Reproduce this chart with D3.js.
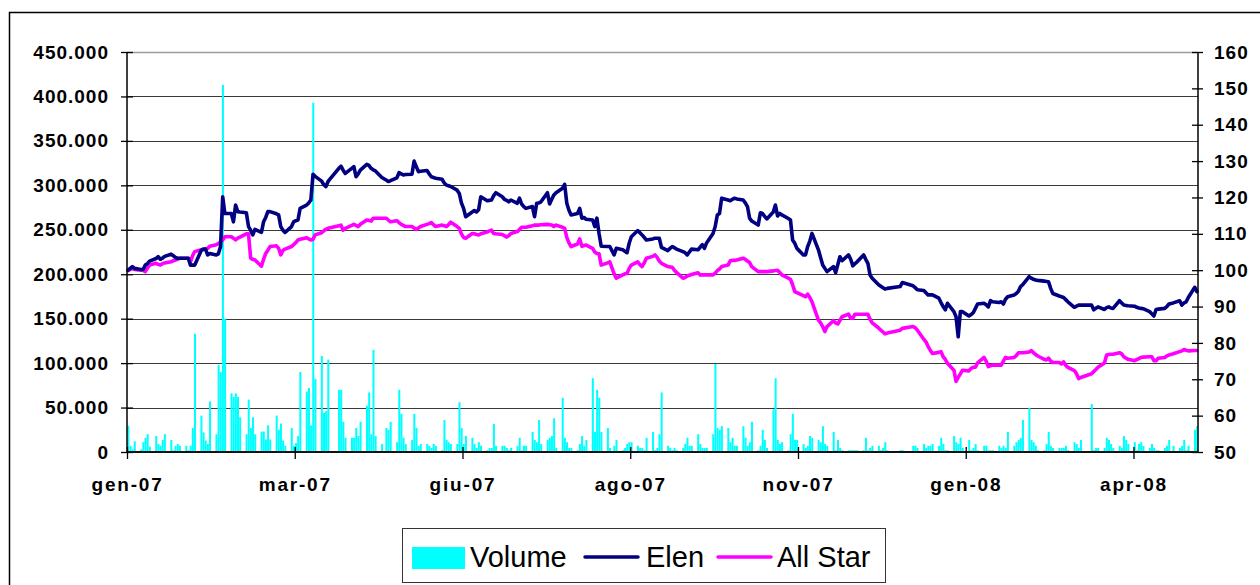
<!DOCTYPE html>
<html>
<head>
<meta charset="utf-8">
<script src="https://cdn.jsdelivr.net/npm/d3@7"></script>
<style>
  html, body { margin: 0; padding: 0; background: #fff; }
  svg { display: block; }
  text { font-family: "Liberation Sans", Arial, sans-serif; }
</style>
</head>
<body>
<svg id="chart" width="1260" height="585"></svg>
<script>
// ---------------- DATA ----------------
const firstDay = "2007-01-02";
const lastDay = "2008-05-13";
const axisEnd = "2008-05-14";
// days the exchange was closed (besides weekends)
const holidays = ["2007-04-06","2007-04-09","2007-05-01","2007-08-15","2007-12-24","2007-12-25",
  "2007-12-26","2007-12-31","2008-01-01","2008-03-21","2008-03-24","2008-05-01"];

const tickLabels = ["gen-07","mar-07","giu-07","ago-07","nov-07","gen-08","apr-08"];
const tickStepDays = 78;

const volumeTicks = [0,50,100,150,200,250,300,350,400,450];   // thousands
const indexTicks = [50,60,70,80,90,100,110,120,130,140,150,160];

const seriesNames = ["Volume","Elen","All Star"];

// daily volume, thousands of shares (one value per trading day)
const volume = [
  29.6,7,3,12,
  3,11,16,20,6,  18,9,7,13.5,20,  13.5,2,7,9,7,  7,2,7,27,133,
  41,22,13,9,57,  20,98,90,413,150,  66,62,66,62,39,  20,59,27,39,20,
  23,23,14,30,14,  41,25,32,13,7,  27,7,10,18,90,  68,72,30,393,82,
  108,44,46,104,  70,70,34,16,
  16,16,27,18,34,  52,67,20,115,18,
  9,27,25,34,
  11,70,43,16,9,  13.5,43,27,7,9,  9,7,4.5,9,7,  2,36,13.5,11,9,
  9,56,27,9,18,  16,9,4.5,11,7,  2,4.5,4.5,31.5,7,  7,7,4.5,2,4.5,
  7,16,2,7,7,  22.5,13.5,11,36,9,  13.5,16,18,38,4.5,  61,16,11,4.5,4.5,
  2,9,18,7,13.5,  83,22.5,70,61,22.5,
  27,4.5,7,13.5,
  2,4.5,9,11,11,  7,4.5,4.5,2,16,  22.5,2,4.5,20,67,  7,4.5,2,4.5,2,
  4.5,9,16,7,7,  20,9,4.5,4.5,4.5,  20,99,27,25,29,  27,11,16,7,7,
  29,16,7,11,34,  2,7,25,13.5,4.5,  48,83,13.5,9,11,  2,20,43,13.5,13.5,
  9,4.5,7,18,16,  13.5,11,29,9,7,  22.5,2,13.5,4.5,2,  2,2,2,2,2,
  2,16,2,4.5,7,  7,2,4.5,11,2,
  2,2,
  7,7,4.5,
  9,4.5,7,7,9,  7,16,9,2,2,  18,11,9,16,4.5,  13.5,2,4.5,9,2,
  7,7,2,2,2,  7,4.5,7,4.5,22.5,  7,11,13.5,16,36,  49.5,13.5,11,7,2,
  2,9,22.5,7,4.5,  4.5,4.5,4.5,7,2,
  11,9,4.5,13.5,
  54,2,4.5,4.5,
  4.5,16,13.5,9,4.5,  7,4.5,18,13.5,9,  11,2,9,11,7,  4.5,9,4.5,2,2,
  4.5,7,13.5,7,
  4.5,7,13.5,2,7,
  25,29
];

// Elen, indexed (start = 100)
const elen = [
  100,100.5,101,100.5,
  100.2,100.2,101.4,101.8,102.5,  103.2,103.7,103,103.3,103.8,  104.4,104,103.5,103.3,103.3,  103.3,103.3,101.4,101.4,101.4,
  105.4,105.8,105.8,104.2,104.6,  104.2,104.5,106.5,120.2,115.6,  115.6,113.3,117.9,116.1,116,  115.8,112,111,109.7,111.2,
  110.4,113.3,114.5,116.1,116.1,  115.5,115.2,112,111,110.4,  112,113.3,113.6,113.8,117,  117.9,118.5,119.3,126.4,125.8,
  124.5,123.5,123,124.4,  128,128.6,127.5,126.6,
  128,128.5,125.7,126.5,127.5,  129.1,128.8,128,127.6,127.3,
  125.5,124.8,124.4,124.6,
  125.4,126.8,126.5,126.2,126.3,  126.4,130,128.5,127.1,127.2,  127.4,126.5,125.7,125.5,125.3,  125,124,123.4,123.2,123,
  122,121.1,118.5,117,114.7,  116,116.4,116,116.6,120.2,  119.1,119.2,119.3,120.5,121.3,  120.2,119.5,119.2,118.8,119.3,
  118.4,119.8,118.2,117.5,117,  117.5,114.7,118.4,118.5,118.8,  121.3,118.2,119.5,120.7,121.3,  122.5,123.6,118.4,116.5,115.2,
  115.6,117,114.3,114.5,114,  113.8,112,114.3,110.1,106.6,
  106.5,106.5,104.2,106,
  105.6,105.2,104.8,107.4,109.2,  110.9,110.3,109.7,109,108.3,  108.6,108.8,108.8,108.8,106.3,  105.4,106,106.5,106.2,105.8,
  105.1,104.8,104.2,105,105.8,  105.6,106.3,107,106,107.5,  110.1,112,115.2,115.6,119.8,  119.3,119.1,119.5,119.8,119.6,
  119.3,118.5,117.5,114.3,113.5,  112.4,115.8,115.6,114.8,114.1,  116,117.9,114.9,115.6,115.2,  114.2,113.8,108.3,107.4,106,
  104.2,104.2,106.5,108,110.1,  105.6,103.5,101.4,100.5,99.6,  101,99.3,101.5,103.7,102.6,  104.2,103,101.2,101.8,102.3,
  104.2,103,101.9,98.7,97.8,  96,95.6,95.2,94.8,95,
  95.5,96.6,
  95.7,95.2,94.6,
  94.4,93.8,93.2,93.2,93.2,  92.3,91.1,90,89.1,90.9,  88.6,87.2,81.7,88.6,88.6,  87.4,87.8,88.3,89.5,90.7,
  90.9,90.5,89.9,91.6,91.3,  91.1,91.3,90.7,92,92.7,  93.2,93.6,94.2,95.5,96,  98.2,97.8,97.5,97.3,97.2,
  97,96.9,96.8,95,93.6,  92.9,92.7,92.5,91.9,91.3,
  89.8,90.1,90.4,90.4,
  90.4,89.1,89.5,89.9,
  89.2,89.7,89.9,89.6,89.5,  91.6,91,90.4,90.3,90.2,  90.1,89.8,89.6,89.5,89.4,  88.6,88,87.4,89.2,89.3,
  89.5,90,90.7,91,
  91.6,90.4,91,91.3,92.5,
  95.3,94.1
];

// All Star index (start = 100)
const allStar = [
  99.9,100.2,100.5,100.2,
  100,100,99.6,100.5,101.4,  101.9,101.6,101.4,101.8,102,  102.3,102.6,102.8,103,103.3,  103.3,103.3,102.3,104,105.1,
  105.6,105.7,105.8,106,106.6,  107,107.3,107.8,108.3,109.2,  109.2,108.8,108.3,108.8,109.1,  110,110,103.3,103,102.8,
  101.1,103,104.6,105.5,106.5,  106.7,106,104.2,105.4,105.8,  106.5,107,107.6,108.3,108.5,  108.9,108.6,108.3,108.5,109.7,
  110.3,110.8,111.3,111.5,  112.2,112.4,111,111.5,
  112.3,112.6,112.3,112,112.6,  113.8,113.7,113.5,114.3,114.3,
  114.3,114.3,113.8,113.3,
  113.6,113.1,112.6,112.3,112,  112,111.6,111.2,111.6,112,  112.6,112.8,113.1,112.5,112,  112.4,112.2,112,112.5,113.2,
  112,111.5,110,109,108.8,  110.1,110,109.8,109.7,110,  110.5,110.8,111,110.1,110,  109.8,109.5,109.1,109.5,110.1,
  110.6,111.2,111.8,111.8,111.8,  112.2,112.4,112.4,112.4,112.5,  112.6,112.5,112.4,112,112.4,  111.8,111.5,109,107.5,106.5,
  107.2,108.6,106.6,106.8,106.9,  106,105,104.6,104.5,101.4,
  102,102.3,99,97.8,
  98.7,99,99.1,100.5,101.4,  102.3,101.5,101,102,103.3,  103.8,104.2,103.5,102.5,101.9,  101,100.9,100.8,100,99.4,
  97.8,98,98.4,98.6,98.8,  99.3,98.7,98.7,98.7,98.7,  98.7,99.2,99.9,100.3,101,  101.4,102.6,102.7,102.7,102.8,
  103.3,103,102.5,102.1,101,  99.6,99.6,99.6,99.6,99.6,  99.8,99.9,100,99.4,98.7,  97.8,97.5,96,94.1,93.8,
  93,92.7,93.4,92.5,91.3,  86.3,85.5,84.5,83.1,84.5,  86.1,85.5,85.2,86.2,87.2,  87.9,86.8,86.8,87.9,87.9,
  87.9,87.9,87.9,86.5,85.5,  84.1,83.5,83,82.5,82.7,
  83.5,84,
  84.5,84.2,83.5,
  81,80.3,79,78,77.1,  77.4,77.6,76.2,75.5,74.4,  72.5,69.4,70.5,71.5,72.5,  72.3,73,73.3,73.3,74.5,
  76,75,73.5,73.7,73.9,  73.9,73.9,75,76,75.8,  76,76.5,77.3,77.3,77.3,  77.5,77.9,77.3,76.8,76.4,
  75.5,75.3,75.8,75,74.6,  74.6,74.2,74.8,73.8,73.3,
  72.4,71.5,70.2,70.5,
  71.5,72.1,72.7,73.3,
  74.5,76.7,76.8,76.9,76.9,  77.3,77,76.2,75.8,75.5,  75.1,75.4,75.7,76,76.1,  76.2,76.2,75.1,75.1,75.8,
  76,76.4,76.7,77,
  77.6,77.8,78.2,78,77.8,
  77.9,77.9
];

const colors = { volume: "#00FFFF", elen: "#000080", allStar: "#FF00FF" };

// ---------------- CHART ----------------
const parse = d3.utcParse("%Y-%m-%d");
const fmtDay = d3.utcFormat("%Y-%m-%d");
const startDate = parse(firstDay);
const endDate = parse(lastDay);
const holidaySet = new Set(holidays);
const tradingDays = d3.utcDays(startDate, d3.utcDay.offset(endDate, 1))
  .filter(d => d.getUTCDay() !== 0 && d.getUTCDay() !== 6 && !holidaySet.has(fmtDay(d)));

const n = Math.min(tradingDays.length, volume.length, elen.length, allStar.length);
const rows = d3.range(n).map(i => ({ date: tradingDays[i], vol: volume[i], elen: elen[i], all: allStar[i] }));

const svg = d3.select("#chart");
const margin = { left: 127, right: 1198, top: 52, bottom: 452 };

// outer frame
svg.append("rect").attr("x", 9.5).attr("y", 12.5).attr("width", 1262).attr("height", 590)
  .attr("fill", "none").attr("stroke", "#000").attr("stroke-width", 1.5);

const x = d3.scaleUtc().domain([startDate, parse(axisEnd)]).range([margin.left, margin.right]);
const slot = x(d3.utcDay.offset(startDate, 1)) - x(startDate);
const yL = d3.scaleLinear().domain([0, 450]).range([margin.bottom, margin.top]);
const yR = d3.scaleLinear().domain([50, 160]).range([margin.bottom, margin.top]);

const itLocale = d3.formatLocale({ decimal: ",", thousands: ".", grouping: [3], currency: ["€", ""] });
const fmtVol = itLocale.format(",");

// gridlines
svg.append("g").selectAll("line").data(volumeTicks.filter(v => v > 0)).join("line")
  .attr("x1", margin.left).attr("x2", margin.right)
  .attr("y1", d => Math.round(yL(d)) + 0.5).attr("y2", d => Math.round(yL(d)) + 0.5)
  .attr("stroke", d => d === 450 ? "#9a9a9a" : "#3a3a3a").attr("stroke-width", d => d === 450 ? 1.6 : 1.1);

// volume bars
svg.append("g").selectAll("rect").data(rows).join("rect")
  .attr("x", d => x(d.date) + 0.3)
  .attr("width", slot - 0.15)
  .attr("y", d => yL(d.vol))
  .attr("height", d => yL(0) - yL(d.vol))
  .attr("fill", colors.volume);

// lines
const lineFor = key => d3.line().x(d => x(d.date) + slot / 2).y(d => yR(d[key]));
svg.append("path").datum(rows).attr("d", lineFor("all"))
  .attr("fill", "none").attr("stroke", colors.allStar).attr("stroke-width", 3.6)
  .attr("stroke-linejoin", "round").attr("stroke-linecap", "round");
svg.append("path").datum(rows).attr("d", lineFor("elen"))
  .attr("fill", "none").attr("stroke", colors.elen).attr("stroke-width", 3.6)
  .attr("stroke-linejoin", "round").attr("stroke-linecap", "round");

// axes
const tickFont = (g, ls) => g.selectAll("text")
  .attr("font-family", "'Liberation Sans', Arial, sans-serif")
  .attr("font-weight", "bold").attr("font-size", 19).attr("letter-spacing", ls).attr("fill", "#000");

const gL = svg.append("g").attr("transform", `translate(${margin.left},0)`)
  .call(d3.axisLeft(yL).tickValues(volumeTicks).tickSize(6).tickPadding(12).tickFormat(d => fmtVol(d * 1000)))
  .call(g => tickFont(g, 1));
gL.selectAll(".tick line").attr("x2", -6).attr("x1", 6).attr("stroke", "#000").attr("stroke-width", 1.3);
gL.select(".domain").attr("d", `M0,${margin.top}V${margin.bottom}`).attr("stroke", "#000").attr("stroke-width", 1.5);

const gR = svg.append("g").attr("transform", `translate(${margin.right},0)`)
  .call(d3.axisRight(yR).tickValues(indexTicks).tickSize(5).tickPadding(11))
  .call(g => tickFont(g, 1));
gR.selectAll(".tick line").attr("x1", -6).attr("x2", 5).attr("stroke", "#000").attr("stroke-width", 1.3);
gR.select(".domain").attr("d", `M0,${margin.top}V${margin.bottom}`).attr("stroke", "#000").attr("stroke-width", 1.5);

const tickDates = tickLabels.map((_, k) => d3.utcDay.offset(startDate, k * tickStepDays));
const gB = svg.append("g").attr("transform", `translate(0,${margin.bottom})`)
  .call(d3.axisBottom(x).tickValues(tickDates).tickSize(7).tickPadding(19)
    .tickFormat((d, i) => tickLabels[i]))
  .call(g => tickFont(g, 1.8));
gB.selectAll(".tick line").attr("y1", -5).attr("y2", 7).attr("stroke", "#000").attr("stroke-width", 1.3);
gB.select(".domain").attr("d", `M${margin.left},0H${margin.right}`).attr("stroke", "#111").attr("stroke-width", 2);

// legend
const lg = svg.append("g");
lg.append("rect").attr("x", 402.5).attr("y", 528.5).attr("width", 483).attr("height", 54)
  .attr("fill", "#fff").attr("stroke", "#333").attr("stroke-width", 1);
const legendItems = [
  { name: seriesNames[0], type: "rect", color: colors.volume, x0: 412, tx: 470 },
  { name: seriesNames[1], type: "line", color: colors.elen, x0: 585, tx: 646 },
  { name: seriesNames[2], type: "line", color: colors.allStar, x0: 718, tx: 777 }
];
legendItems.forEach(it => {
  if (it.type === "rect") {
    lg.append("rect").attr("x", it.x0).attr("y", 547).attr("width", 53).attr("height", 22).attr("fill", it.color);
  } else {
    lg.append("line").attr("x1", it.x0).attr("x2", it.x0 + 53).attr("y1", 557).attr("y2", 557)
      .attr("stroke", it.color).attr("stroke-width", 3.5).attr("stroke-linecap", "round");
  }
  lg.append("text").attr("x", it.tx).attr("y", 567).attr("font-size", 29)
    .attr("fill", "#000").text(it.name);
});
</script>
</body>
</html>
